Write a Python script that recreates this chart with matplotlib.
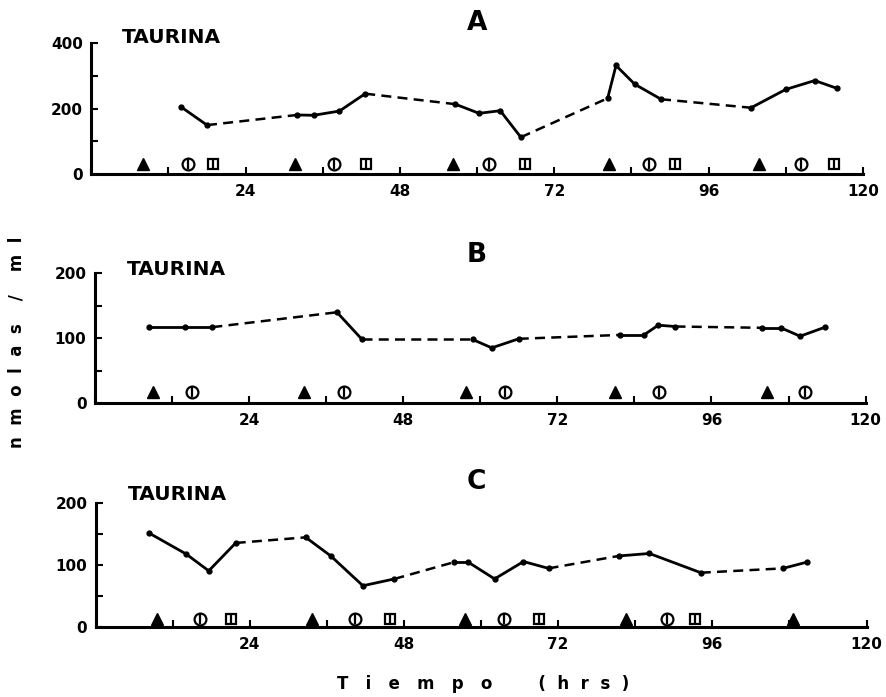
import matplotlib.pyplot as plt
from matplotlib.ticker import FixedLocator

# panel A (0-400 scale)
hours_a = [14, 18, 32, 34.6, 38.6, 42.6, 56.6, 60.3, 63.6, 66.8,
           80.3, 81.6, 84.5, 88.6, 102.6, 108, 112.5, 116]
vals_a = [205, 150, 181, 180, 193, 246, 214, 186, 194, 113,
          232, 332, 275, 229, 203, 259, 286, 262]
dashed_a = [0, 1, 0, 0, 0, 1, 0, 0, 0, 1, 0, 0, 0, 1, 0, 0, 0]
tri_a = [8, 31.7, 56.2, 80.5, 103.8]
circ_a = [15.1, 37.8, 61.9, 86.7, 110.3]
sq_a = [19, 42.7, 67.4, 90.7, 115.5]

# panel B (0-200 scale)
hours_b = [8.4, 14.1, 18.3, 37.7, 41.6, 58.8, 61.8, 66, 81.8, 85.5,
           87.7, 90.4, 103.8, 106.8, 109.8, 113.7]
vals_b = [117, 117, 117, 140, 98, 98, 85, 99, 105, 105,
          120, 118, 116, 116, 103, 117]
dashed_b = [0, 0, 1, 0, 1, 0, 0, 1, 0, 0, 0, 1, 0, 0, 0]
tri_b = [9, 32.5, 57.8, 81, 104.7]
circ_b = [15.2, 38.8, 63.8, 87.9, 110.6]
sq_b = []

# panel C (0-200 scale)
hours_c = [8.3, 14.1, 17.6, 21.8, 32.7, 36.6, 41.6, 46.5, 55.8, 58,
           62.1, 66.6, 70.5, 81.4, 86.2, 94.2, 107, 110.7]
vals_c = [152, 118, 91, 136, 145, 115, 67, 78, 105, 105,
          78, 106, 95, 115, 119, 88, 95, 105]
dashed_c = [0, 0, 0, 1, 0, 0, 0, 1, 0, 0, 0, 0, 1, 0, 0, 1, 0]
tri_c = [9.6, 33.7, 57.5, 82.6, 108.6]
circ_c = [16.2, 40.3, 63.6, 88.9]
sq_c = [21, 45.8, 69, 93.3]

panels = [
    dict(rect=[0.103, 0.750, 0.871, 0.188], ymax=400, ymaj=[0, 200, 400], ymin=[100, 300],
         x=hours_a, y=vals_a, dashed=dashed_a, tri=tri_a, circ=circ_a, sq=sq_a,
         level=32, letter='A', tpos=(0.04, 1.04), lpos=(0.5, 1.155)),
    dict(rect=[0.107, 0.422, 0.870, 0.1857], ymax=200, ymaj=[0, 100, 200], ymin=[50, 150],
         x=hours_b, y=vals_b, dashed=dashed_b, tri=tri_b, circ=circ_b, sq=sq_b,
         level=17, letter='B', tpos=(0.041, 1.03), lpos=(0.495, 1.14)),
    dict(rect=[0.108, 0.100, 0.870, 0.178], ymax=200, ymaj=[0, 100, 200], ymin=[50, 150],
         x=hours_c, y=vals_c, dashed=dashed_c, tri=tri_c, circ=circ_c, sq=sq_c,
         level=14, letter='C', tpos=(0.0415, 1.067), lpos=(0.494, 1.17)),
]

fig = plt.figure(figsize=(8.86, 6.97), dpi=100)

for i, p in enumerate(panels):
    ax = fig.add_axes(p['rect'])
    x, y = p['x'], p['y']
    for k in range(len(x) - 1):
        if p['dashed'][k]:
            ax.plot(x[k:k + 2], y[k:k + 2], color='black', lw=1.8, dashes=(4, 2.5))
        else:
            ax.plot(x[k:k + 2], y[k:k + 2], color='black', lw=2.0)
    ax.plot(x, y, 'o', color='black', ms=3.5)

    lv = p['level']
    ax.plot(p['tri'], [lv] * len(p['tri']), '^', color='black', ms=8)
    ax.plot(p['circ'], [lv] * len(p['circ']), 'o', mfc='white', mec='black', mew=1.6, ms=8.5)
    ax.plot(p['circ'], [lv] * len(p['circ']), '|', color='black', mew=1.6, ms=6.5)
    if p['sq']:
        ax.plot(p['sq'], [lv] * len(p['sq']), 's', mfc='white', mec='black', mew=1.6, ms=7.5)
        ax.plot(p['sq'], [lv] * len(p['sq']), '|', color='black', mew=1.6, ms=5.5)
    if i == 2:
        # last triangle in C sits on a short stem
        ax.vlines(p['tri'][-1], 0, lv, color='black', lw=1.5)

    ax.set_xlim(0, 120)
    ax.set_ylim(0, p['ymax'])
    ax.set_xticks([0, 24, 48, 72, 96, 120])
    ax.set_xticklabels(['', '24', '48', '72', '96', '120'])
    ax.xaxis.set_minor_locator(FixedLocator([12, 36, 60, 84, 108]))
    ax.set_yticks(p['ymaj'])
    ax.yaxis.set_minor_locator(FixedLocator(p['ymin']))
    ax.tick_params(which='both', direction='in', width=1.5, length=5)
    ax.tick_params(axis='x', pad=7)
    ax.tick_params(axis='y', pad=6)
    for lab in ax.get_xticklabels() + ax.get_yticklabels():
        lab.set_fontweight('bold')
        lab.set_fontsize(11)
    for s in ['top', 'right']:
        ax.spines[s].set_visible(False)
    for s in ['left', 'bottom']:
        ax.spines[s].set_linewidth(2.2)

    ax.text(p['tpos'][0], p['tpos'][1], 'TAURINA', transform=ax.transAxes,
            fontsize=14.5, fontweight='bold', va='center', ha='left')
    ax.text(p['lpos'][0], p['lpos'][1], p['letter'], transform=ax.transAxes,
            fontsize=19, fontweight='bold', va='center', ha='center')

fig.text(0.019, 0.509, 'n  m  o  l  a  s    /    m  l', rotation=90, fontsize=12,
         fontweight='bold', va='center', ha='center')
fig.text(0.545, 0.018, 'T   i   e   m   p   o        (  h  r  s  )', fontsize=12,
         fontweight='bold', va='center', ha='center')

fig.savefig('out.png', dpi=100)
